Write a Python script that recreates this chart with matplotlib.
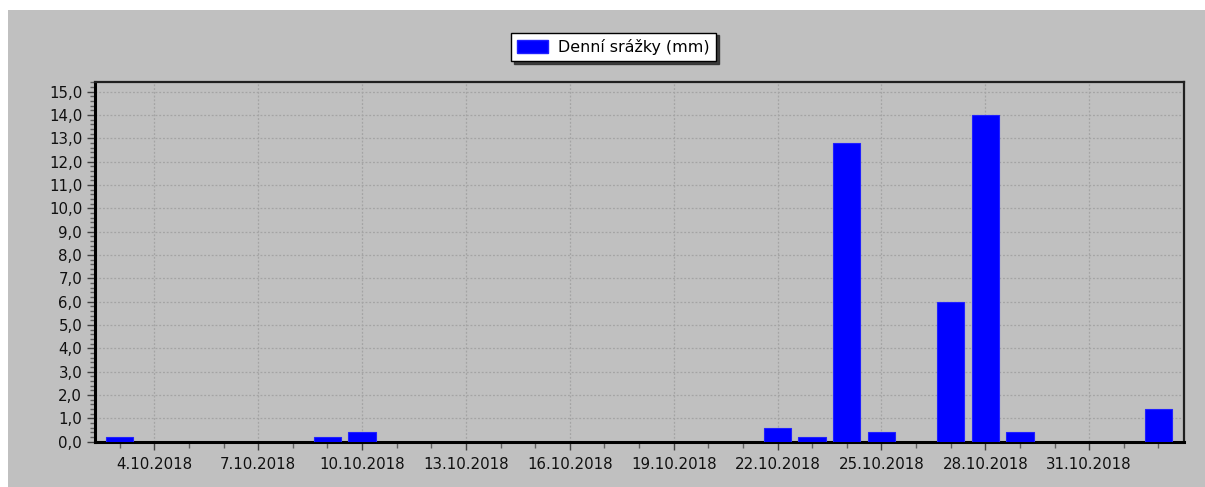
import matplotlib
matplotlib.use("Agg")
import matplotlib.pyplot as plt
import matplotlib.dates as mdates
from matplotlib.patches import Rectangle, Patch
from matplotlib.ticker import MultipleLocator, FuncFormatter
from datetime import datetime, timedelta

# ---- data ----
dates = ["3.10.2018", "9.10.2018", "10.10.2018", "22.10.2018", "23.10.2018",
         "24.10.2018", "25.10.2018", "27.10.2018", "28.10.2018", "29.10.2018",
         "2.11.2018"]
precip = [0.2, 0.2, 0.4, 0.6, 0.2, 12.8, 0.4, 6.0, 14.0, 0.4, 1.4]
tick_labels = ["4.10.2018", "7.10.2018", "10.10.2018", "13.10.2018", "16.10.2018",
               "19.10.2018", "22.10.2018", "25.10.2018", "28.10.2018", "31.10.2018"]
series_name = "Denní srážky (mm)"

def parse(s):
    return datetime.strptime(s, "%d.%m.%Y")

x = [mdates.date2num(parse(d)) for d in dates]
xt = [mdates.date2num(parse(d)) for d in tick_labels]

plt.rcParams['font.family'] = ['DejaVu Sans']

W, H = 1205, 487
fig = plt.figure(figsize=(W / 100, H / 100), dpi=100, facecolor="white")
bg = "#c0c0c0"
fig.patches.append(Rectangle((8 / W, 0), 1, 1 - 10 / H, transform=fig.transFigure,
                             facecolor=bg, edgecolor="none", zorder=-10))

ax = fig.add_axes([94.7 / W, 1 - 441.7 / H, (1184 - 94.7) / W, (441.7 - 81.7) / H])
ax.set_facecolor(bg)

ax.bar(x, precip, width=0.79, color="#0000ff", edgecolor="#2020ff", linewidth=0.8, zorder=3)

start = mdates.date2num(parse(dates[0]))
end = mdates.date2num(parse(dates[-1]))
ax.set_xlim(start - 0.72, end + 0.74)
ax.set_ylim(0, 15.43)

ax.set_xticks(xt)
ax.set_xticklabels(tick_labels)
minor_days = []
d = parse(dates[0])
while d <= parse(dates[-1]):
    minor_days.append(mdates.date2num(d))
    d += timedelta(days=1)
ax.set_xticks(minor_days, minor=True)

ax.yaxis.set_major_locator(MultipleLocator(1.0))
ax.yaxis.set_minor_locator(MultipleLocator(0.2))
ax.yaxis.set_major_formatter(FuncFormatter(lambda v, p: f"{v:.1f}".replace(".", ",")))

ax.tick_params(axis="both", which="major", labelsize=10.8, colors="#404040",
               labelcolor="#101010", length=6, width=1)
ax.tick_params(axis="both", which="minor", colors="#606060", length=3.5, width=1)
ax.tick_params(axis="x", which="minor", length=4)
ax.tick_params(axis="x", which="major", pad=5)
ax.tick_params(axis="y", which="major", pad=3)

ax.grid(True, which="major", color="#a4a4a4", linestyle=(0, (1.5, 1.5)), linewidth=0.9, zorder=0)
ax.set_axisbelow(True)

for s in ["left", "bottom"]:
    ax.spines[s].set_linewidth(2.2)
    ax.spines[s].set_color("black")
for s in ["top", "right"]:
    ax.spines[s].set_linewidth(1.6)
    ax.spines[s].set_color("#202020")

handle = Patch(facecolor="#0000ff", edgecolor="#2020ff")
leg = fig.legend([handle], [series_name], loc="center", bbox_to_anchor=(613.5 / W, 1 - 47 / H),
                 frameon=True, fancybox=False, shadow={"color": "#303030", "alpha": 0.9},
                 fontsize=11.4, handlelength=1.95, handleheight=0.95, borderpad=0.4,
                 handletextpad=0.65, borderaxespad=0)
leg.get_frame().set_edgecolor("black")
leg.get_frame().set_facecolor("white")
leg.get_frame().set_linewidth(1.0)
leg.get_frame().set_alpha(1.0)

fig.savefig("out.png", dpi=100, facecolor=fig.get_facecolor())
